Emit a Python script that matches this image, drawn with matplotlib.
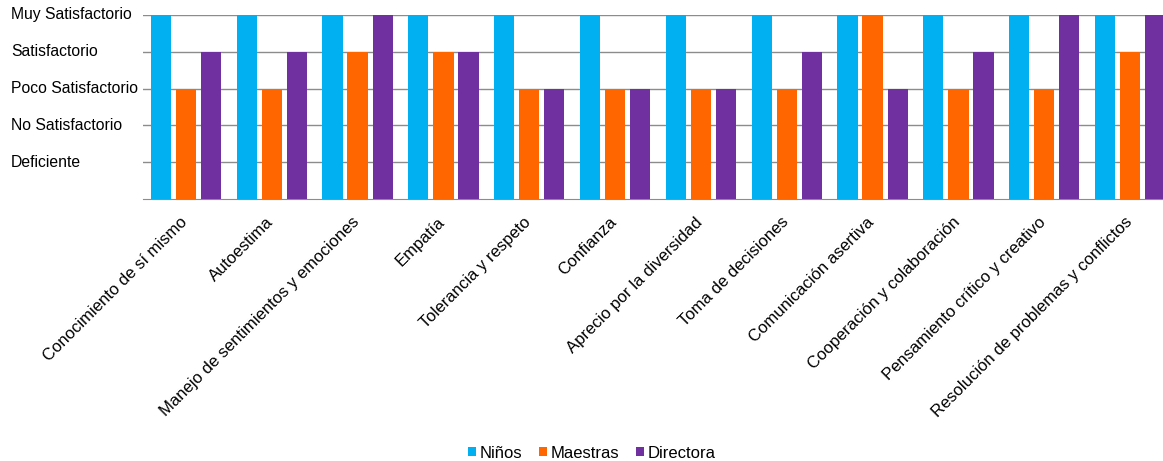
import numpy as np
import matplotlib.pyplot as plt
from matplotlib.transforms import blended_transform_factory, ScaledTranslation

plt.rcParams['font.family'] = ['Liberation Sans', 'DejaVu Sans']

categorias = ["Conocimiento de sí mismo", "Autoestima", "Manejo de sentimientos y emociones",
              "Empatía", "Tolerancia y respeto", "Confianza", "Aprecio por la diversidad",
              "Toma de decisiones", "Comunicación asertiva", "Cooperación y colaboración",
              "Pensamiento crítico y creativo", "Resolución de problemas y conflictos"]
ninos = [5, 5, 5, 5, 5, 5, 5, 5, 5, 5, 5, 5]
maestras = [3, 3, 4, 4, 3, 3, 3, 3, 5, 3, 3, 4]
directora = [4, 4, 5, 4, 3, 3, 3, 4, 3, 4, 5, 5]
niveles = ["Deficiente", "No Satisfactorio", "Poco Satisfactorio", "Satisfactorio", "Muy Satisfactorio"]
series = ["Niños", "Maestras", "Directora"]
colores = ["#00B0F0", "#FF6600", "#7030A0"]

W, H = 1163, 461
fig = plt.figure(figsize=(W / 100, H / 100), dpi=100)
ax = fig.add_axes([143 / W, (H - 199) / H, 1030 / W, 184 / H])

x = np.arange(len(categorias))
bw = 0.235
off = 0.293
for i, (vals, name, col) in enumerate(zip([ninos, maestras, directora], series, colores)):
    ax.bar(x + (i - 1) * off, vals, bw, color=col, label=name, zorder=3)

ax.set_xlim(-0.5, len(categorias) - 0.5)
ax.set_ylim(0, 5)
ax.set_yticks([1, 2, 3, 4, 5])
ax.set_yticklabels([])
ax.tick_params(axis='y', length=0)
ax.grid(axis='y', color='#8c8c8c', linewidth=1, zorder=0)
for s in ['top', 'right', 'left']:
    ax.spines[s].set_visible(False)
ax.spines['bottom'].set_color('#8c8c8c')

tr = blended_transform_factory(fig.transFigure, ax.transData)
for yv, lab in zip([1, 2, 3, 4, 5], niveles):
    ax.text(11 / W, yv, lab, transform=tr, ha='left', va='center', fontsize=11.3, color='black')

ax.set_xticks(x)
ax.set_xticklabels(categorias, rotation=45, ha='right', rotation_mode='anchor', fontsize=12)
ax.tick_params(axis='x', length=0, pad=9)
shift = ScaledTranslation(-6 / 100, -3 / 100, fig.dpi_scale_trans)
for lbl in ax.get_xticklabels():
    lbl.set_transform(lbl.get_transform() + shift)

fig.legend(loc='center', bbox_to_anchor=(592 / W, 1 - 453 / H), ncol=3, frameon=False,
           fontsize=12, handlelength=0.45, handleheight=0.45, handletextpad=0.25, columnspacing=1.0)

fig.savefig('out.png', dpi=100)
